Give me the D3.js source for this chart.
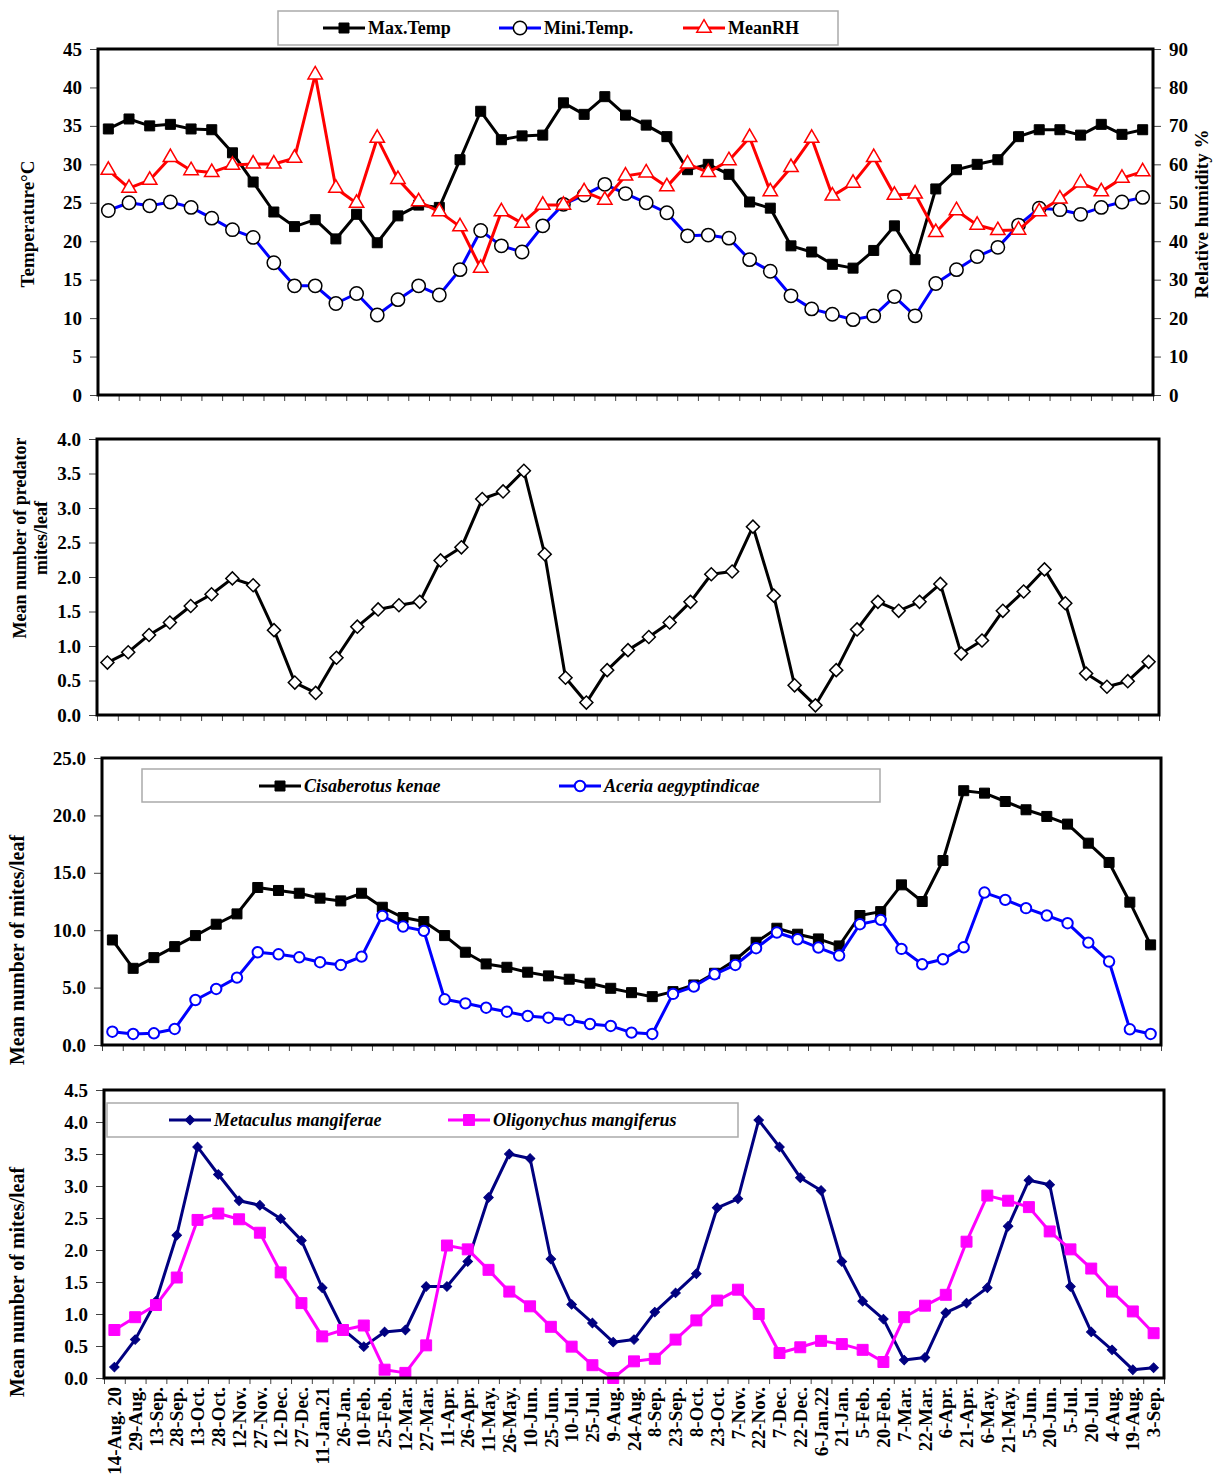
<!DOCTYPE html>
<html>
<head>
<meta charset="utf-8">
<script src="https://cdn.jsdelivr.net/npm/d3@7"></script>
<style>
  body { margin: 0; background: #fff; }
  svg text { font-family: "Liberation Serif", "Times New Roman", serif; font-weight: bold; fill: #000; }
</style>
</head>
<body>
<svg id="chart" width="1219" height="1481"></svg>
<script>
const dates = ["14-Aug. 20","29-Aug.","13-Sep.","28-Sep.","13-Oct.","28-Oct.","12-Nov.","27-Nov.","12-Dec.","27-Dec.",
  "11-Jan.21","26-Jan.","10-Feb.","25-Feb.","12-Mar.","27-Mar.","11-Apr.","26-Apr.","11-May.","26-May.",
  "10-Jun.","25-Jun.","10-Jul.","25-Jul.","9-Aug.","24-Aug.","8-Sep.","23-Sep.","8-Oct.","23-Oct.",
  "7-Nov.","22-Nov.","7-Dec.","22-Dec.","6-Jan.22","21-Jan.","5-Feb.","20-Feb.","7-Mar.","22-Mar.",
  "6-Apr.","21-Apr.","6-May.","21-May.","5-Jun.","20-Jun.","5-Jul.","20-Jul.","4-Aug.","19-Aug.","3-Sep."];

const maxTemp = [34.6,35.9,35.0,35.2,34.6,34.5,31.5,27.7,23.8,21.9, 22.8,20.3,23.5,19.8,23.3,24.7,24.4,30.6,36.9,33.2,
  33.7,33.8,38.0,36.5,38.8,36.4,35.1,33.6,29.3,30.0, 28.7,25.1,24.3,19.4,18.6,17.0,16.5,18.8,22.0,17.6,
  26.8,29.3,30.0,30.6,33.6,34.5,34.5,33.8,35.2,33.9, 34.5];
const miniTemp = [24.0,25.0,24.6,25.1,24.4,23.0,21.5,20.5,17.2,14.2, 14.2,11.9,13.2,10.4,12.4,14.2,13.0,16.3,21.4,19.4,
  18.6,22.0,24.8,26.0,27.4,26.2,25.0,23.7,20.7,20.8, 20.4,17.6,16.1,12.9,11.2,10.5,9.8,10.3,12.8,10.3,
  14.5,16.3,18.0,19.2,22.1,24.3,24.1,23.5,24.4,25.1, 25.7];
const meanRH = [58.5,53.8,55.9,61.8,58.4,57.9,59.8,60.1,60.1,61.6, 83.3,53.8,49.9,66.8,56.1,50.3,47.7,43.8,33.0,47.7,
  44.7,49.4,49.4,52.9,50.7,57.0,57.8,54.2,60.1,57.9, 61.0,67.0,52.9,59.2,66.8,51.8,55.1,61.8,52.0,52.3,
  42.3,48.0,44.2,42.8,42.9,47.7,51.0,55.2,52.9,56.4, 58.1];
const predator = [0.76,0.91,1.16,1.34,1.58,1.75,1.98,1.88,1.23,0.47, 0.32,0.83,1.28,1.53,1.59,1.64,2.24,2.43,3.13,3.24,
  3.54,2.33,0.54,0.18,0.65,0.94,1.13,1.34,1.64,2.04, 2.08,2.73,1.73,0.43,0.14,0.65,1.24,1.64,1.51,1.64,
  1.90,0.89,1.08,1.51,1.79,2.11,1.62,0.60,0.41,0.49, 0.77];
const cisaberotus = [9.15,6.68,7.61,8.57,9.53,10.52,11.42,13.72,13.46,13.22, 12.79,12.55,13.22,12.0,11.1,10.75,9.53,8.08,7.06,6.77,
  6.34,6.02,5.73,5.38,4.94,4.56,4.21,4.65,5.23,6.25, 7.41,8.95,10.17,9.65,9.24,8.63,11.28,11.62,13.95,12.5,
  16.07,22.15,21.94,21.21,20.49,19.91,19.24,17.58,15.9,12.44, 8.72];
const aceria = [1.16,0.96,1.02,1.40,3.92,4.88,5.87,8.08,7.90,7.64, 7.21,6.97,7.70,11.25,10.32,9.94,3.98,3.63,3.25,2.90,
  2.53,2.38,2.18,1.83,1.66,1.08,0.96,4.45,5.09,6.16, 6.97,8.43,9.80,9.21,8.49,7.79,10.52,10.90,8.37,7.03,
  7.47,8.51,13.28,12.64,11.92,11.28,10.61,8.92,7.27,1.37, 0.96];
const metaculus = [0.17,0.60,1.20,2.23,3.61,3.18,2.77,2.70,2.49,2.15, 1.41,0.76,0.49,0.72,0.75,1.43,1.43,1.82,2.82,3.50,
  3.43,1.86,1.15,0.86,0.56,0.60,1.03,1.33,1.63,2.66, 2.80,4.03,3.61,3.13,2.93,1.82,1.20,0.92,0.28,0.32,
  1.02,1.17,1.41,2.37,3.09,3.02,1.43,0.72,0.44,0.13, 0.16];
const oligonychus = [0.75,0.95,1.14,1.57,2.47,2.57,2.48,2.27,1.65,1.17, 0.65,0.75,0.82,0.13,0.08,0.51,2.07,2.01,1.69,1.35,
  1.12,0.80,0.49,0.20,0.00,0.26,0.30,0.60,0.90,1.21, 1.38,1.00,0.39,0.48,0.58,0.53,0.44,0.25,0.95,1.13,
  1.30,2.13,2.85,2.77,2.67,2.29,2.01,1.71,1.35,1.04, 0.70];

const svg = d3.select("#chart");
const n = dates.length;
const idx = d3.range(n);

function makePanel(left, right, top, bottom, yMax, yStep, fmt) {
  const x = d3.scaleBand().domain(idx).range([left, right]);
  const cx = i => x(i) + x.bandwidth() / 2;
  const y = d3.scaleLinear().domain([0, yMax]).range([bottom, top]);

  // category ticks sit between the points
  const xb = d3.scaleLinear().domain([0, n]).range([left, right]);
  svg.append("g")
    .attr("transform", `translate(0,${bottom})`)
    .call(d3.axisBottom(xb).tickValues(d3.range(n + 1)).tickSize(6).tickFormat(""))
    .call(g => g.select(".domain").remove())
    .selectAll("line").attr("stroke", "#444");

  svg.append("g")
    .attr("transform", `translate(${left},0)`)
    .call(d3.axisLeft(y).tickValues(d3.range(0, yMax + yStep / 2, yStep)).tickSize(8).tickPadding(8).tickFormat(fmt))
    .attr("font-size", 19)
    .call(g => g.select(".domain").remove())
    .selectAll("line").attr("stroke", "#444");

  return { x, cx, y, left, right, top, bottom };
}

function frame(p) {
  svg.append("rect")
    .attr("x", p.left).attr("y", p.top)
    .attr("width", p.right - p.left).attr("height", p.bottom - p.top)
    .attr("fill", "none").attr("stroke", "#000").attr("stroke-width", 3);
}

function series(p, values, y, opt) {
  const line = d3.line().x((d, i) => p.cx(i)).y(d => y(d));
  svg.append("path").datum(values)
    .attr("d", line)
    .attr("fill", "none")
    .attr("stroke", opt.color)
    .attr("stroke-width", opt.width || 3)
    .attr("stroke-linejoin", "round");
  svg.append("g").selectAll("path").data(values).join("path")
    .attr("d", d3.symbol(opt.symbol, opt.size))
    .attr("transform", (d, i) => `translate(${p.cx(i)},${y(d)}) rotate(${opt.rotate || 0})`)
    .attr("fill", opt.fill)
    .attr("stroke", opt.stroke)
    .attr("stroke-width", opt.sw || 1.5);
}

function legendItem(x, y, text, opt, italic) {
  svg.append("line")
    .attr("x1", x).attr("x2", x + 42).attr("y1", y).attr("y2", y)
    .attr("stroke", opt.color).attr("stroke-width", 3);
  svg.append("path")
    .attr("d", d3.symbol(opt.symbol, opt.size))
    .attr("transform", `translate(${x + 21},${y}) rotate(${opt.rotate || 0})`)
    .attr("fill", opt.fill).attr("stroke", opt.stroke).attr("stroke-width", opt.sw || 1.5);
  svg.append("text")
    .attr("x", x + 45).attr("y", y).attr("dy", "0.35em")
    .attr("font-size", 18)
    .style("font-style", italic ? "italic" : "normal")
    .text(text);
}

function legendBox(x0, y0, x1, y1) {
  svg.append("rect")
    .attr("x", x0).attr("y", y0).attr("width", x1 - x0).attr("height", y1 - y0)
    .attr("fill", "#fff").attr("stroke", "#aaa").attr("stroke-width", 1.5);
}

function yTitle(x, y, lines, size) {
  const t = svg.append("text")
    .attr("transform", `translate(${x},${y}) rotate(-90)`)
    .attr("text-anchor", "middle")
    .attr("font-size", size);
  lines.forEach((s, k) => t.append("tspan").attr("x", 0).attr("dy", k === 0 ? 0 : "1.15em").text(s));
}

const sqBlack = { color: "#000", symbol: d3.symbolSquare, size: 100, fill: "#000", stroke: "#000", sw: 1 };
const circBlue = { color: "#0000ff", symbol: d3.symbolCircle, size: 140, fill: "#fff", stroke: "#000", sw: 1.5 };
const triRed = { color: "#ff0000", symbol: d3.symbolTriangle, size: 90, fill: "#fff", stroke: "#ff0000", sw: 1.5 };
const diaWhite = { color: "#000", symbol: d3.symbolSquare, size: 85, rotate: 45, fill: "#fff", stroke: "#000", sw: 1.5 };
const circBlue2 = { color: "#0000ff", symbol: d3.symbolCircle, size: 85, fill: "#fff", stroke: "#0000ff", sw: 2 };
const diaNavy = { color: "#000080", symbol: d3.symbolSquare, size: 45, rotate: 45, fill: "#000080", stroke: "#000080", sw: 1 };
const sqMagenta = { color: "#ff00ff", symbol: d3.symbolSquare, size: 120, fill: "#ff00ff", stroke: "#ff00ff", sw: 1 };

// ---- Panel 1: temperature & RH
const p1 = makePanel(98, 1153, 49, 395, 45, 5, d3.format("d"));
const yRH = d3.scaleLinear().domain([0, 90]).range([395, 49]);
svg.append("g")
  .attr("transform", `translate(${p1.right},0)`)
  .call(d3.axisRight(yRH).tickValues(d3.range(0, 91, 10)).tickSize(8).tickPadding(8))
  .attr("font-size", 19)
  .call(g => g.select(".domain").remove())
  .selectAll("line").attr("stroke", "#444");
series(p1, maxTemp, p1.y, sqBlack);
series(p1, miniTemp, p1.y, circBlue);
series(p1, meanRH, yRH, triRed);
frame(p1);
yTitle(34, 224, ["Temperature°C"], 19);
yTitle(1208, 214, ["Relative humidity %"], 19);
legendBox(278, 11, 838, 45);
legendItem(323, 28, "Max.Temp", sqBlack);
legendItem(499, 28, "Mini.Temp.", circBlue);
legendItem(683, 28, "MeanRH", triRed);

// ---- Panel 2: predator mites
const p2 = makePanel(97, 1159, 439, 715, 4, 0.5, d3.format(".1f"));
series(p2, predator, p2.y, diaWhite);
frame(p2);
yTitle(26, 538, ["Mean number of predator", "mites/leaf"], 18);

// ---- Panel 3: Cisaberotus & Aceria
const p3 = makePanel(102, 1161, 758, 1045, 25, 5, d3.format(".1f"));
legendBox(142, 769, 880, 802);
legendItem(259, 786, "Cisaberotus kenae", sqBlack, true);
legendItem(559, 786, "Aceria aegyptindicae", circBlue2, true);
series(p3, cisaberotus, p3.y, sqBlack);
series(p3, aceria, p3.y, circBlue2);
frame(p3);
yTitle(24, 950, ["Mean number of mites/leaf"], 20);

// ---- Panel 4: Metaculus & Oligonychus
const p4 = makePanel(104, 1164, 1090, 1378, 4.5, 0.5, d3.format(".1f"));
legendBox(107, 1103, 738, 1137);
legendItem(169, 1120, "Metaculus mangiferae", diaNavy, true);
legendItem(448, 1120, "Oligonychus mangiferus", sqMagenta, true);
series(p4, metaculus, p4.y, diaNavy);
series(p4, oligonychus, p4.y, sqMagenta);
frame(p4);
yTitle(24, 1282, ["Mean number of mites/leaf"], 20);

// date labels under the last panel
svg.append("g").selectAll("text").data(dates).join("text")
  .attr("transform", (d, i) => `translate(${p4.cx(i)},${p4.bottom + 9}) rotate(-90)`)
  .attr("text-anchor", "end")
  .attr("dy", "0.35em")
  .attr("font-size", 19)
  .text(d => d);
</script>
</body>
</html>
